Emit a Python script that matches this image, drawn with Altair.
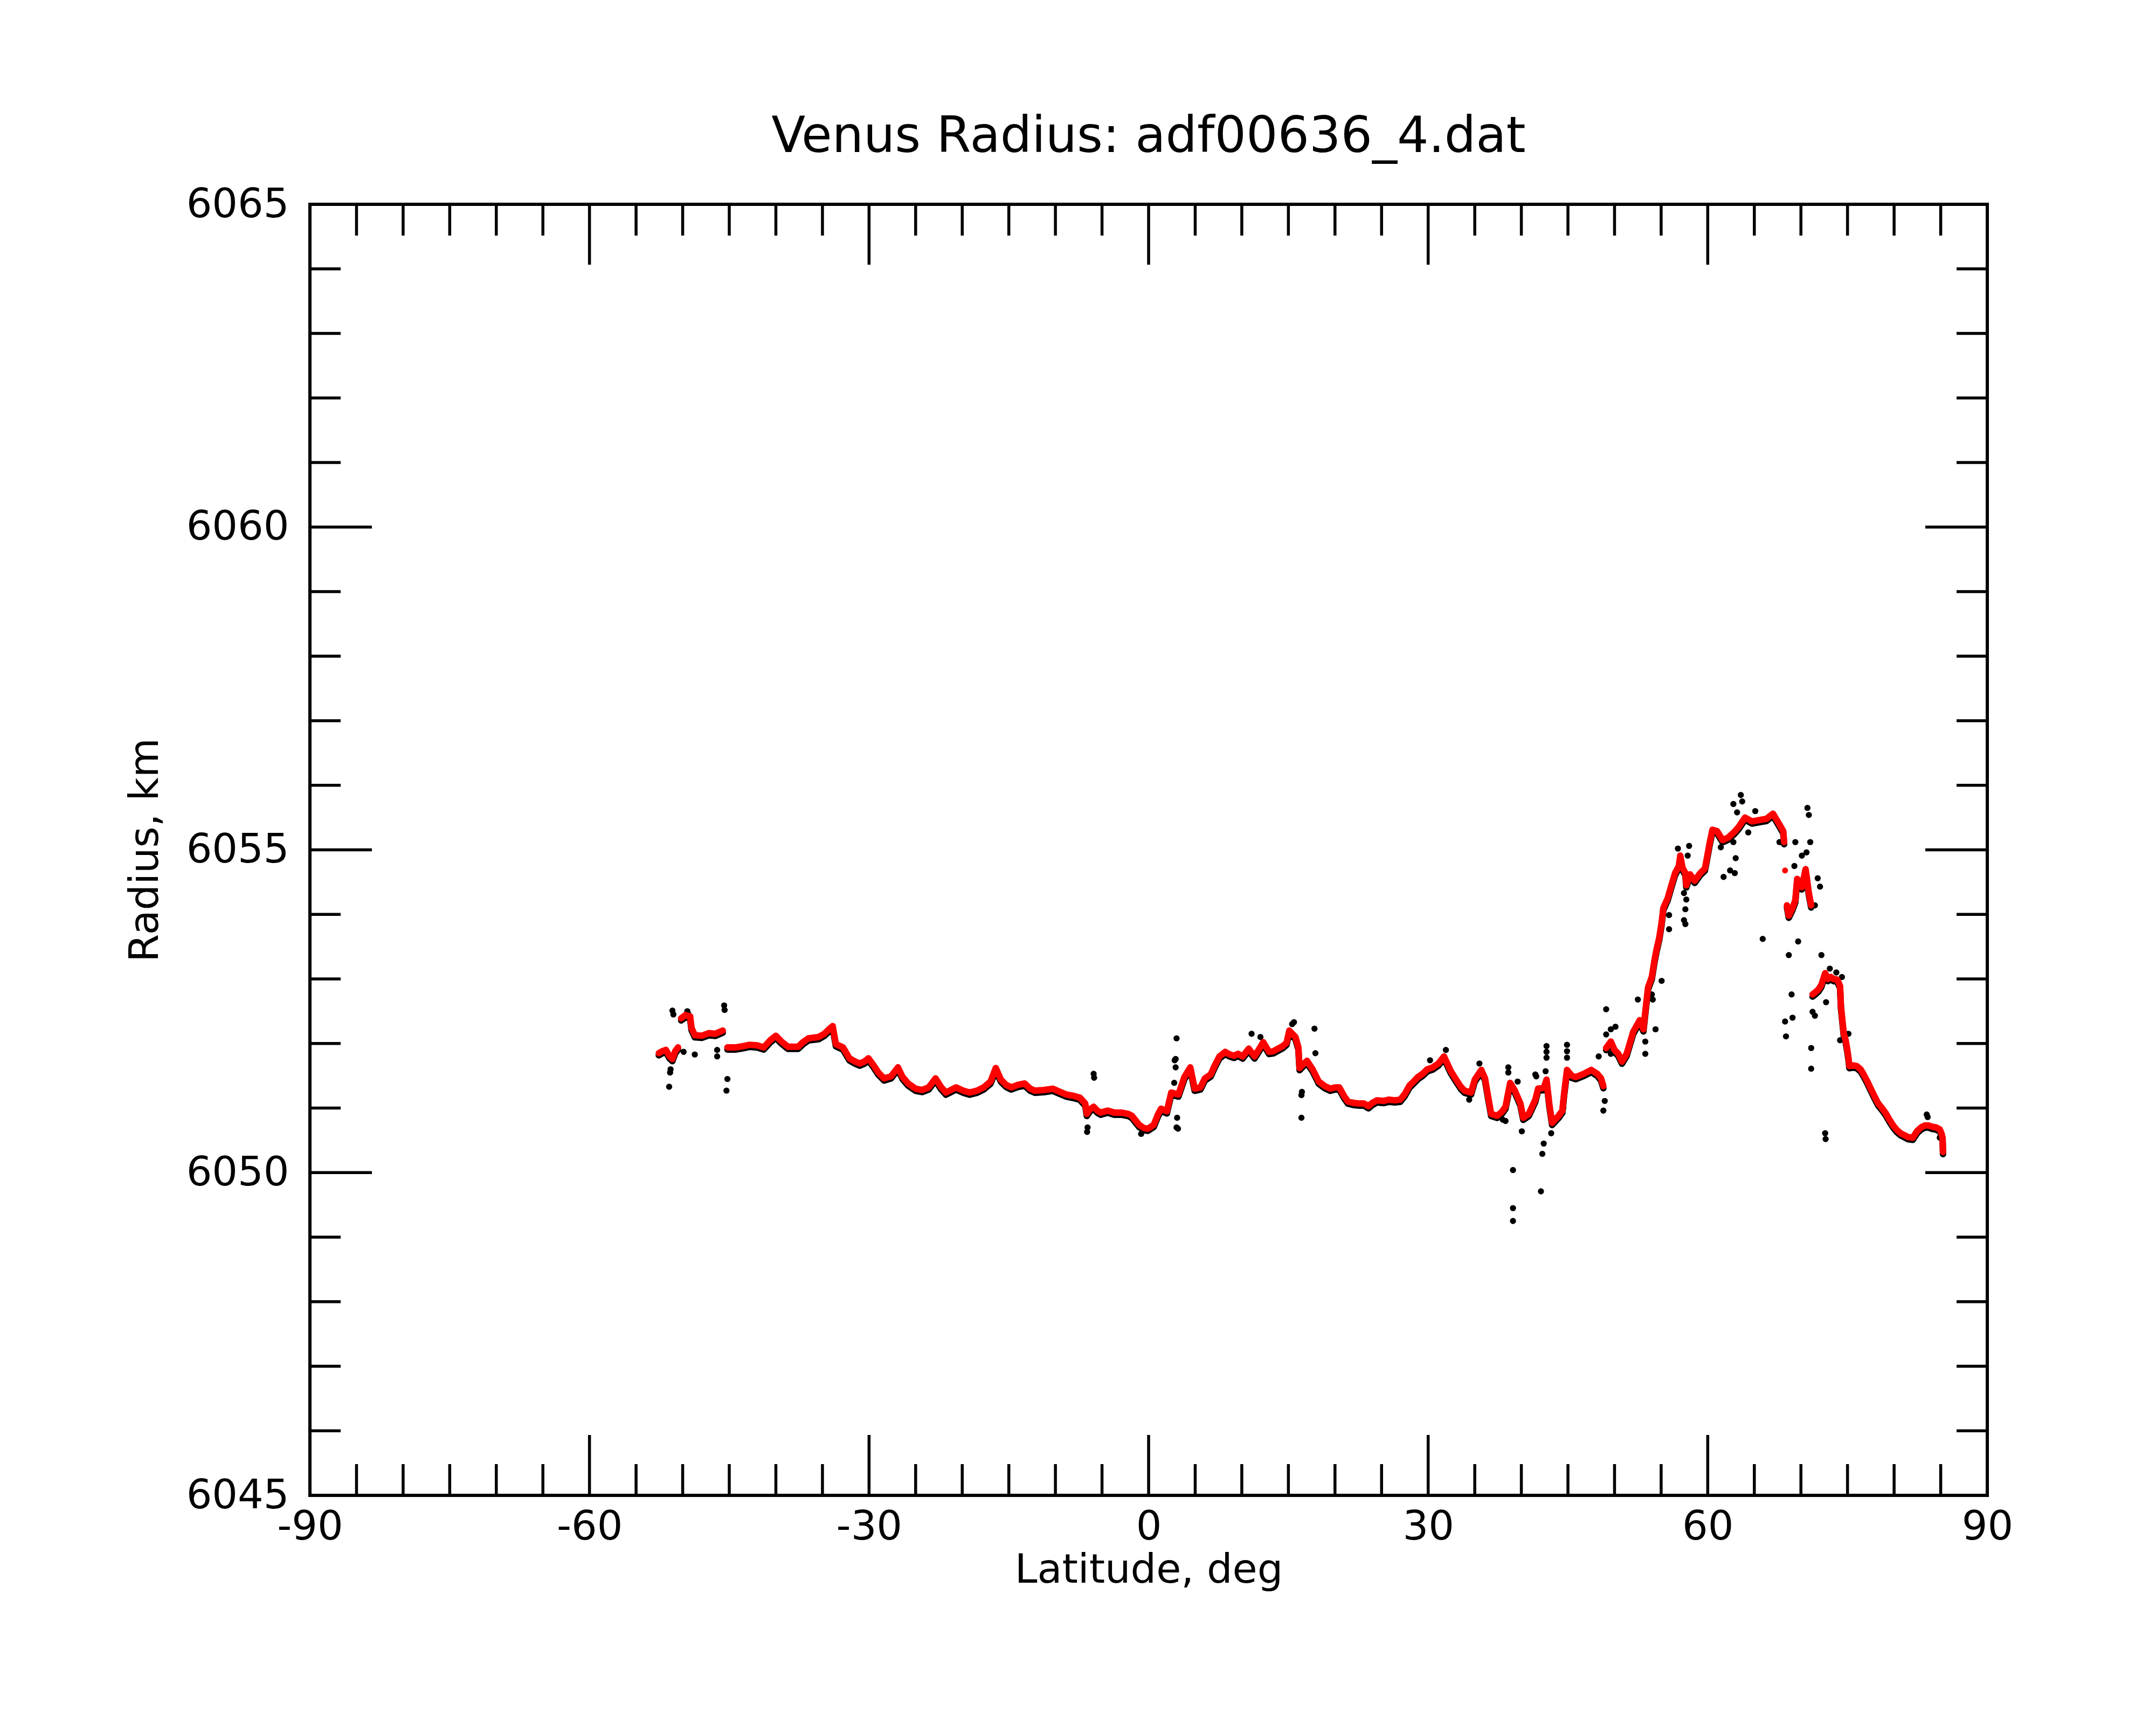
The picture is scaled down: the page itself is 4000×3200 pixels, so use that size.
import altair as alt
import pandas as pd

# ---------------- data ----------------
# smoothed (red) profile, split into continuous segments
red_lat = [
    -52.56, -52.2, -51.8, -51.4, -51.1, -50.8, -50.5,
    -50.16, -49.7, -49.2, -49.05, -48.7, -47.95, -47.2, -46.5, -45.7,
    -45.2, -44.26, -43.5, -42.8, -42.0, -41.3, -40.6, -40.0, -39.4, -38.7, -37.6, -37.1, -36.5,
    -35.4, -34.8, -34.3, -33.9, -33.56, -32.8, -32.1, -31.5, -31.0, -30.5, -30.06, -29.5, -29.0,
    -28.4, -27.65, -26.9, -26.4, -25.8, -25.0, -24.3, -23.6, -22.86, -22.3, -21.75, -21.2, -20.65,
    -19.9, -19.2, -18.4, -17.7, -16.96, -16.4, -15.85, -15.3, -14.75, -14.0, -13.3, -12.7, -12.2,
    -11.2, -10.3, -9.5, -8.85, -8.1, -7.37, -6.8, -6.63, -6.3, -5.9, -5.5, -5.15, -4.4, -3.68,
    -2.94, -2.2, -1.8, -1.02, -0.5, -0.08, 0.55, 1.0, 1.34, 1.96, 2.43, 3.2, 3.84, 4.47, 4.94,
    5.57, 6.04, 6.66, 7.1, 7.6, 8.23, 8.7, 9.17, 9.6, 10.1, 10.74, 11.37, 11.8, 12.3, 12.93,
    13.4, 13.9, 14.4, 14.8, 15.1, 15.76, 16.07, 16.2, 16.6, 17.0, 17.6, 18.26, 18.9, 19.5, 20.0,
    20.46, 21.0, 21.4, 22.0, 22.65, 23.1, 23.6, 24.0, 24.5, 25.2, 25.8, 26.4, 27.0, 27.5, 28.0,
    28.5, 28.9, 29.4, 29.9, 30.5, 31.1, 31.7, 32.4, 33.0, 33.5, 33.9, 34.6, 35.0, 35.7, 36.1,
    36.45, 36.76, 37.4, 37.9, 38.3, 38.8, 39.3, 39.9, 40.2, 40.8, 41.5, 41.8, 42.4, 42.7, 43.0,
    43.3, 44.0, 44.4, 44.6, 44.9, 45.4, 45.85, 46.7, 47.5, 48.15, 48.55, 48.8,
    49.1, 49.6, 50.0, 50.4, 50.8, 51.3, 52.0, 52.7, 53.1, 53.3, 53.6, 54.0, 54.3, 54.5, 54.8,
    55.05, 55.24, 55.7, 56.1, 56.5, 56.9, 57.05, 57.3, 57.6, 57.7, 58.1, 58.6, 59.2, 59.7, 60.0,
    60.2, 60.5, 61.0, 61.6, 62.2, 62.8, 63.3, 64.0, 64.75, 65.5, 66.3, 67.0, 67.5, 68.1, 68.2,
    68.5, 68.7, 69.1, 69.4, 69.6, 69.9, 70.1, 70.5, 70.6, 70.85, 71.1,
    71.25, 71.6, 71.9, 72.2, 72.6, 72.9, 73.2, 73.5, 73.9, 74.2, 74.3, 74.6, 74.8, 74.97, 75.1,
    75.2, 75.6, 76.0, 76.4, 76.7, 77.1, 77.5, 77.9, 78.3, 78.7, 79.1, 79.5, 79.9, 80.3, 80.7,
    81.1, 81.5, 82.0, 82.5, 82.9, 83.3, 83.7, 84.1, 84.5, 84.9, 85.1, 85.2, 85.25,
]
red_rad = [
    6051.85, 6051.88, 6051.90, 6051.80, 6051.76, 6051.88, 6051.94,
    6052.39, 6052.44, 6052.42, 6052.24, 6052.13, 6052.12, 6052.16, 6052.15, 6052.20,
    6051.94, 6051.94, 6051.96, 6051.98, 6051.97, 6051.94, 6052.05, 6052.12, 6052.03, 6051.95, 6051.95, 6052.02, 6052.08,
    6052.10, 6052.15, 6052.22, 6052.27, 6051.99, 6051.94, 6051.77, 6051.72, 6051.69, 6051.72, 6051.77, 6051.66, 6051.55,
    6051.46, 6051.49, 6051.63, 6051.48, 6051.38, 6051.30, 6051.28, 6051.32, 6051.46, 6051.33, 6051.24, 6051.28, 6051.32,
    6051.27, 6051.24, 6051.27, 6051.32, 6051.41, 6051.62, 6051.44, 6051.36, 6051.32, 6051.36, 6051.38, 6051.30, 6051.27,
    6051.28, 6051.30, 6051.25, 6051.21, 6051.19, 6051.16, 6051.07, 6050.91, 6050.98, 6051.02, 6050.96, 6050.93, 6050.96, 6050.93,
    6050.93, 6050.91, 6050.88, 6050.74, 6050.69, 6050.68, 6050.74, 6050.90, 6050.99, 6050.95, 6051.24, 6051.21, 6051.48, 6051.63, 6051.30,
    6051.32, 6051.46, 6051.52, 6051.66, 6051.80, 6051.87, 6051.83, 6051.81, 6051.84, 6051.80, 6051.92, 6051.80, 6051.90, 6052.02, 6051.87,
    6051.88, 6051.92, 6051.96, 6052.01, 6052.20, 6052.10, 6051.94, 6051.62, 6051.68, 6051.73, 6051.60, 6051.41, 6051.34, 6051.30, 6051.32,
    6051.32, 6051.18, 6051.10, 6051.08, 6051.07, 6051.07, 6051.03, 6051.08, 6051.12, 6051.11, 6051.13, 6051.12, 6051.13, 6051.22, 6051.35,
    6051.42, 6051.48, 6051.53, 6051.60, 6051.63, 6051.69, 6051.80, 6051.58, 6051.44, 6051.33, 6051.27, 6051.24, 6051.44, 6051.59, 6051.46,
    6051.16, 6050.91, 6050.88, 6050.94, 6051.02, 6051.39, 6051.27, 6051.07, 6050.85, 6050.91, 6051.13, 6051.30, 6051.31, 6051.44, 6051.06,
    6050.77, 6050.88, 6050.96, 6051.24, 6051.59, 6051.50, 6051.48, 6051.53, 6051.59, 6051.53, 6051.46, 6051.34,
    6051.93, 6052.03, 6051.90, 6051.84, 6051.72, 6051.84, 6052.18, 6052.36, 6052.22, 6052.49, 6052.87, 6053.03, 6053.30, 6053.45, 6053.64,
    6053.87, 6054.10, 6054.25, 6054.45, 6054.64, 6054.75, 6054.91, 6054.72, 6054.64, 6054.45, 6054.62, 6054.52, 6054.64, 6054.71, 6054.94,
    6055.10, 6055.31, 6055.29, 6055.15, 6055.19, 6055.27, 6055.35, 6055.50, 6055.44, 6055.46, 6055.48, 6055.56, 6055.44, 6055.29, 6055.12,
    6054.14, 6053.98, 6054.10, 6054.22, 6054.55, 6054.50, 6054.42, 6054.70, 6054.60, 6054.33, 6054.14,
    6052.76, 6052.80, 6052.84, 6052.91, 6053.09, 6053.00, 6053.03, 6053.00, 6052.99, 6052.89, 6052.57, 6052.15, 6052.05, 6051.91, 6051.78,
    6051.65, 6051.66, 6051.65, 6051.60, 6051.53, 6051.42, 6051.30, 6051.18, 6051.07, 6051.00, 6050.92, 6050.82, 6050.73, 6050.66, 6050.61,
    6050.58, 6050.55, 6050.54, 6050.65, 6050.70, 6050.73, 6050.73, 6050.71, 6050.70, 6050.67, 6050.60, 6050.54, 6050.32,
]
red_seg = [0] * 7 + [1] * 9 + [2] * 168 + [3] * 45 + [4] * 11 + [5] * 43

# isolated smoothed points
red_iso_lat = [68.3, 44.45, 42.9]
red_iso_rad = [6054.68, 6051.10, 6051.20]

# raw (black) points that stand off the smoothed profile
blk_lat = [
    -51.1, -51.0, -51.3, -51.35, -51.45, -49.5, -49.4, -48.7, -49.9, -45.55, -45.5, -46.3,
    -46.3, -45.2, -45.3, -5.9, -5.85, -6.6, -6.55, 3.0, 2.8, 3.15, -0.8,
    2.9, 2.9, 3.06, 3.0, 2.75, 16.4, 16.4, 16.45, 17.8, 17.9, 15.6, 15.4, 11.05, 12.0,
    31.9, 30.2, 35.5, 34.4, 38.6, 38.6, 39.1, 39.1, 39.1, 39.6, 40.05, 38.3, 42.4, 42.25,
    42.1, 41.6, 42.7, 42.7, 42.7, 42.6, 43.2, 44.9, 44.9, 44.9, 44.5, 38.0, 41.5,
    48.8, 48.95, 48.3, 49.1, 49.6, 49.6, 50.1, 53.3, 53.3, 52.5, 54.4, 55.05, 54.0,
    55.85, 55.85, 57.45, 57.6, 57.6, 57.7, 57.45, 58.0, 57.85, 56.8, 61.7, 62.4, 62.9,
    63.0, 61.4, 62.75, 62.75, 63.55, 63.7, 63.15, 65.1, 64.35, 65.9, 67.7, 69.4, 70.7,
    70.85, 71.0, 70.6, 70.1, 69.3, 71.8, 72.05, 71.5, 69.7, 68.7, 72.2, 69.0, 68.3,
    69.1, 68.4, 71.25, 71.5, 72.7, 71.1, 71.1, 72.6, 72.65, 74.4, 75.1, 74.2, 83.5,
    83.6, 84.9, 73.8, 73.1, 49.1, 50.9, 49.6, 54.1,
]
blk_rad = [
    6052.51, 6052.45, 6051.60, 6051.55, 6051.33, 6052.50, 6052.46, 6051.83, 6051.87, 6052.59, 6052.52, 6051.90,
    6051.80, 6051.45, 6051.27, 6051.53, 6051.47, 6050.63, 6050.70, 6052.08, 6051.74, 6050.68, 6050.60,
    6051.76, 6051.63, 6050.85, 6050.70, 6051.39, 6050.85, 6051.20, 6051.25, 6052.23, 6051.85, 6052.33, 6052.30, 6052.15, 6052.10,
    6051.90, 6051.74, 6051.69, 6051.13, 6051.63, 6051.55, 6050.04, 6049.45, 6049.25, 6051.41, 6050.64, 6050.80, 6050.45, 6050.29,
    6049.71, 6051.49, 6051.96, 6051.87, 6051.78, 6051.57, 6050.61, 6051.98, 6051.88, 6051.78, 6051.00, 6050.82, 6051.52,
    6050.96, 6051.11, 6051.80, 6052.53, 6052.22, 6051.84, 6052.26, 6051.84, 6052.03, 6052.68, 6052.22, 6052.97, 6052.76,
    6053.99, 6053.77, 6053.91, 6053.85, 6054.08, 6054.23, 6054.33, 6055.06, 6054.91, 6055.02, 6054.58, 6054.68, 6054.64,
    6054.87, 6055.04, 6055.12, 6055.71, 6055.85, 6055.75, 6055.58, 6055.60, 6055.27, 6053.62, 6055.12, 6055.12, 6055.65,
    6055.54, 6055.12, 6054.96, 6054.91, 6054.75, 6054.56, 6054.43, 6054.14, 6053.58, 6053.37, 6053.37, 6052.76, 6052.34,
    6052.40, 6052.11, 6052.49, 6052.43, 6052.64, 6051.93, 6051.61, 6050.61, 6050.52, 6053.03, 6052.15, 6052.05, 6050.90,
    6050.86, 6050.54, 6053.10, 6053.16, 6052.14, 6051.72, 6051.95, 6052.68,
]

x_labels = [-90, -60, -30, 0, 30, 60, 90]
x_major = [-60, -30, 0, 30, 60]
x_minor = [-85, -80, -75, -70, -65, -55, -50, -45, -40, -35, -25, -20, -15, -10, -5,
           5, 10, 15, 20, 25, 35, 40, 45, 50, 55, 65, 70, 75, 80, 85]
y_labels = [6045, 6050, 6055, 6060, 6065]
y_major = [6050, 6055, 6060]
y_minor = [6046, 6047, 6048, 6049, 6051, 6052, 6053, 6054, 6056, 6057, 6058, 6059,
           6061, 6062, 6063, 6064]

# ---------------- chart ----------------
W, H = 3112, 2395
FONT = "DejaVu Sans"
MAJ_X, MIN_X = 112, 58
MAJ_Y, MIN_Y = 115, 57
TW = 5.5

red_df = pd.DataFrame({"lat": red_lat, "rad": red_rad, "seg": red_seg})
iso_df = pd.DataFrame({"lat": red_iso_lat, "rad": red_iso_rad})
blk_df = pd.DataFrame({"lat": blk_lat, "rad": blk_rad})

xscale = alt.Scale(domain=[-90, 90], nice=False, zero=False)
yscale = alt.Scale(domain=[6045, 6065], nice=False, zero=False)

common_axis = dict(
    labelFont=FONT, labelFontSize=75, labelColor="black", labelFlush=False,
    labelOverlap=False, labelLimit=1000, labelExpr="toString(datum.value)",
    ticks=False, tickSize=0, domain=False, grid=False, titleFont=FONT,
    titleFontSize=75, titleFontWeight="normal", titleColor="black",
    titleBaseline="alphabetic", titleLimit=2000,
)
xaxis = alt.Axis(title="Latitude, deg", values=x_labels, labelPadding=22,
                 titleX=W / 2, titleY=161, titleAlign="center", **common_axis)
yaxis = alt.Axis(title="Radius, km", values=y_labels, labelPadding=39,
                 titleX=-283, titleY=H / 2, titleAngle=270, titleAlign="center",
                 **common_axis)

X = alt.X("lat:Q", scale=xscale, axis=xaxis)
Y = alt.Y("rad:Q", scale=yscale, axis=yaxis)

black_fringe = alt.Chart(red_df).mark_line(
    color="black", strokeWidth=12, strokeCap="round", strokeJoin="round", yOffset=4
).encode(x=X, y=Y, detail="seg:N")

black_pts = alt.Chart(blk_df).mark_circle(color="black", size=130, opacity=1).encode(x=X, y=Y)

red_line = alt.Chart(red_df).mark_line(
    color="#ff0000", strokeWidth=12, strokeCap="round", strokeJoin="round"
).encode(x=X, y=Y, detail="seg:N")

red_pts = alt.Chart(red_df).mark_circle(color="#ff0000", size=120, opacity=1).encode(x=X, y=Y)
red_iso = alt.Chart(iso_df).mark_circle(color="#ff0000", size=120, opacity=1).encode(x=X, y=Y)


def xticks(vals, length, top):
    df = pd.DataFrame({"lat": vals})
    if top:
        yv, y2v = alt.value(0), alt.value(length)
    else:
        yv, y2v = alt.value(H), alt.value(H - length)
    return alt.Chart(df).mark_rule(color="black", strokeWidth=TW).encode(x=X, y=yv, y2=y2v)


def yticks(vals, length, right):
    df = pd.DataFrame({"rad": vals})
    if right:
        xv, x2v = alt.value(W), alt.value(W - length)
    else:
        xv, x2v = alt.value(0), alt.value(length)
    return alt.Chart(df).mark_rule(color="black", strokeWidth=TW).encode(y=Y, x=xv, x2=x2v)


tick_layers = [
    xticks(x_major, MAJ_X, False), xticks(x_major, MAJ_X, True),
    xticks(x_minor, MIN_X, False), xticks(x_minor, MIN_X, True),
    yticks(y_major, MAJ_Y, False), yticks(y_major, MAJ_Y, True),
    yticks(y_minor, MIN_Y, False), yticks(y_minor, MIN_Y, True),
]

chart = alt.layer(
    black_fringe, black_pts, red_line, red_pts, red_iso, *tick_layers
).properties(
    width=W,
    height=H,
    background="white",
    title=alt.TitleParams(
        text="Venus Radius: adf00636_4.dat", font=FONT, fontSize=92,
        fontWeight="normal", color="black", anchor="middle", frame="group",
        baseline="alphabetic", offset=-32,
    ),
    autosize=alt.AutoSizeParams(type="none"),
    padding={"left": 567, "top": 371, "right": 305, "bottom": 418},
).configure_view(
    stroke="black", strokeWidth=6
)

chart.save("out.html", embed_options={"renderer": "svg", "actions": False})
